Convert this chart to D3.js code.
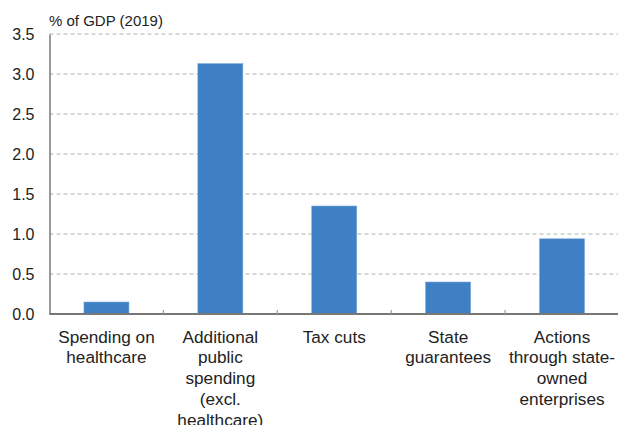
<!DOCTYPE html>
<html><head><meta charset="utf-8">
<script src="https://cdn.jsdelivr.net/npm/d3@7"></script>
<style>body{margin:0;background:#fff}svg{display:block;font-family:"Liberation Sans",Arial,sans-serif}</style>
</head><body><svg id="c" width="618" height="425"></svg>
<script>
const categories = [
  ["Spending on","healthcare"],
  ["Additional","public","spending","(excl.","healthcare)"],
  ["Tax cuts"],
  ["State","guarantees"],
  ["Actions","through state-","owned","enterprises"]
];
const values = [0.15, 3.13, 1.35, 0.40, 0.94];
const yTicks = [0, 0.5, 1.0, 1.5, 2.0, 2.5, 3.0, 3.5];
const yTitle = "% of GDP (2019)";

const svg = d3.select("#c");
const m = {l: 49.5};
const W = 618;
const x0 = d3.scaleBand().domain(d3.range(categories.length)).range([m.l, 619]);
const y = d3.scaleLinear().domain([0, 3.5]).range([314, 34]);

// gridlines
svg.append("g").selectAll("line").data(yTicks.filter(d => d > 0)).join("line")
  .attr("x1", m.l).attr("x2", W).attr("y1", d => y(d)).attr("y2", d => y(d))
  .attr("stroke", "#b0b0b0").attr("stroke-width", 1).attr("stroke-dasharray", "4,3");

// bars
svg.append("g").selectAll("rect").data(values).join("rect")
  .attr("x", (d, i) => x0(i) + x0.bandwidth()/2 - 22.5).attr("width", 45)
  .attr("y", d => y(d)).attr("height", d => y(0) - y(d))
  .attr("fill", "#3f7fc4").attr("stroke", "#7aa8dc").attr("stroke-width", 0.6);

// y axis
const ya = svg.append("g").attr("transform", `translate(${m.l},0)`)
  .call(d3.axisLeft(y).tickValues(yTicks).tickFormat(d3.format(".1f")).tickSize(0).tickPadding(15));
ya.select(".domain").attr("stroke", "#777").attr("stroke-width", 1.5);
ya.selectAll("text").attr("font-size", 16).attr("fill", "#222").attr("font-family", "Liberation Sans, Arial, sans-serif");

// x axis
const xa = svg.append("g").attr("transform", `translate(0,${y(0)})`);
xa.append("line").attr("x1", m.l).attr("x2", W).attr("stroke", "#777").attr("stroke-width", 2);
xa.selectAll(".tk").data(d3.range(1, categories.length)).join("line").attr("class","tk")
  .attr("x1", i => x0(i)).attr("x2", i => x0(i)).attr("y1", 0).attr("y2", -4)
  .attr("stroke", "#999").attr("stroke-width", 1.2);
categories.forEach((lines, i) => {
  const cx = x0(i) + x0.bandwidth()/2;
  const t = svg.append("text").attr("text-anchor", "middle").attr("font-size", 17.2).attr("fill", "#222")
    .attr("x", cx).attr("y", 342.5);
  lines.forEach((l, j) => t.append("tspan").attr("x", cx).attr("dy", j ? 20.8 : 0).text(l));
});

svg.append("text").attr("x", 49).attr("y", 25.5).attr("font-size", 15).attr("fill", "#222").text(yTitle);
</script></body></html>
